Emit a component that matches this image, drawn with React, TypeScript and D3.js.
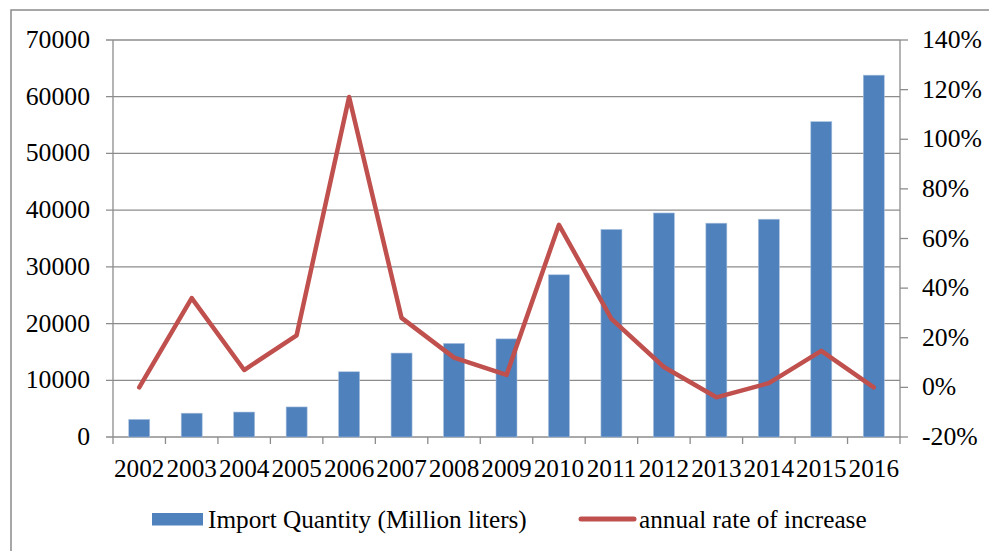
import React from "react";
import * as d3 from "d3";

// chart data
const years = ["2002", "2003", "2004", "2005", "2006", "2007", "2008", "2009", "2010", "2011", "2012", "2013", "2014", "2015", "2016"];
const importQty = [3100, 4200, 4400, 5300, 11500, 14800, 16500, 17300, 28600, 36600, 39500, 37700, 38400, 55600, 63800];
const rateOfIncrease = [0, 36, 7, 21, 117, 28, 12, 5, 65.5, 27.6, 8.2, -4, 1.7, 14.7, 0];
const leftTicks = [0, 10000, 20000, 30000, 40000, 50000, 60000, 70000];
const rightTicks = [-20, 0, 20, 40, 60, 80, 100, 120, 140];

const barColor = "#4f81bd";
const lineColor = "#c0504d";
const gridColor = "#8c8c8c";
const font = "'Liberation Serif', 'Times New Roman', serif";

// text slightly stretched sideways, like the source image
function Txt(props: { x: number; y: number; anchor?: string; sx?: number; children: React.ReactNode }) {
  const sx = props.sx ?? 1.05;
  return (
    <text transform={`translate(${props.x},${props.y}) scale(${sx},1)`} textAnchor={props.anchor ?? "start"}
      fontSize={24.5} fill="#000">{props.children}</text>
  );
}

export default function App() {
  const W = 989, H = 551;
  const left = 113, right = 900, top = 40, bottom = 437;

  const x = d3.scaleBand().domain(years).range([left, right]).paddingInner(0).paddingOuter(0);
  const yL = d3.scaleLinear().domain([0, 70000]).range([bottom, top]);
  const yR = d3.scaleLinear().domain([-20, 140]).range([bottom, top]);
  const barW = x.bandwidth() * 0.4;

  const line = d3.line<number>()
    .x((_, i) => x(years[i])! + x.bandwidth() / 2)
    .y(d => yR(d));

  const boundaries = d3.range(years.length + 1).map(i => left + i * x.bandwidth());

  return (
    <svg width={W} height={H} style={{ position: "absolute", left: 0, top: 0, background: "#fff" }} fontFamily={font}>
      {/* outer frame */}
      <rect x={11} y={10} width={1000} height={600} fill="none" stroke="#8a8a8a" strokeWidth={1.5} />

      {/* gridlines */}
      {leftTicks.map(t => (
        <line key={"g" + t} x1={106} x2={right} y1={yL(t)} y2={yL(t)} stroke={gridColor} strokeWidth={1.3} />
      ))}
      {leftTicks.map(t => (
        <Txt key={"lt" + t} x={90} y={yL(t) + 8} anchor="end">{t}</Txt>
      ))}

      {/* bars */}
      {importQty.map((v, i) => (
        <rect key={"b" + i} x={x(years[i])! + (x.bandwidth() - barW) / 2} y={yL(v)} width={barW} height={bottom - yL(v)}
          fill={barColor} stroke="#a9c0dd" strokeWidth={0.6} />
      ))}

      {/* axes */}
      <line x1={left} x2={left} y1={top} y2={bottom} stroke={gridColor} strokeWidth={1.3} />
      <line x1={right} x2={right} y1={top} y2={bottom} stroke={gridColor} strokeWidth={1.3} />
      {rightTicks.map(t => (
        <g key={"rt" + t}>
          <line x1={right} x2={908} y1={yR(t)} y2={yR(t)} stroke={gridColor} strokeWidth={1.3} />
          <Txt x={922} y={yR(t) + 8}>{t + "%"}</Txt>
        </g>
      ))}
      {boundaries.map((b, i) => (
        <line key={"xt" + i} x1={b} x2={b} y1={bottom} y2={444} stroke={gridColor} strokeWidth={1.3} />
      ))}
      {years.map(y => (
        <Txt key={"xl" + y} x={x(y)! + x.bandwidth() / 2} y={477} anchor="middle" sx={1.03}>{y}</Txt>
      ))}

      {/* rate line */}
      <path d={line(rateOfIncrease)!} fill="none" stroke={lineColor} strokeWidth={4.5} strokeLinejoin="round" strokeLinecap="round" />

      {/* legend */}
      <rect x={152} y={513} width={51} height={12.5} fill={barColor} />
      <Txt x={208} y={528} sx={1.03}>Import Quantity (Million liters)</Txt>
      <line x1={581} x2={634} y1={519} y2={519} stroke={lineColor} strokeWidth={5} strokeLinecap="round" />
      <Txt x={639} y={528} sx={1.03}>annual rate of increase</Txt>
    </svg>
  );
}
